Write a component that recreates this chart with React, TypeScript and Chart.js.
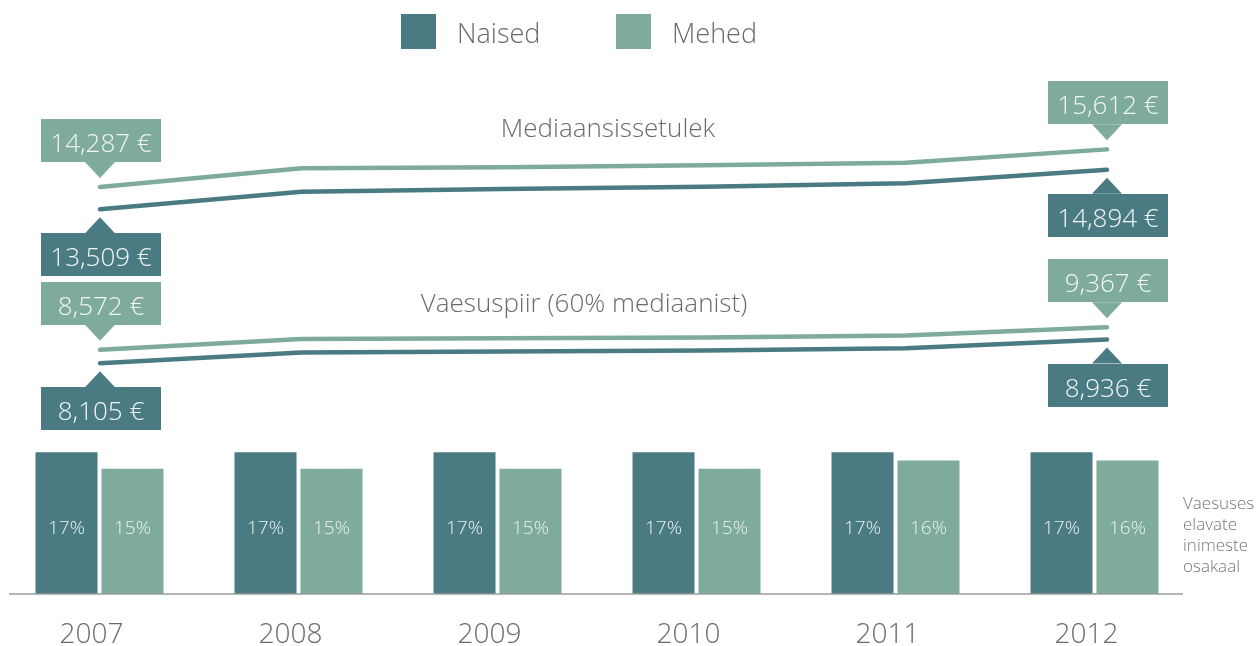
import React, { useEffect, useRef } from "react";
import { Chart, registerables } from "chart.js";

Chart.register(...registerables);

// ---- data ----
const years = ["2007", "2008", "2009", "2010", "2011", "2012"];
const seriesNames = ["Naised", "Mehed"];
const medianWomen = [13509, 14126, 14220, 14301, 14420, 14894];
const medianMen = [14287, 14947, 14982, 15052, 15143, 15612];
const povertyLineWomen = [8105, 8476, 8511, 8546, 8630, 8936];
const povertyLineMen = [8572, 8957, 8981, 9002, 9073, 9367];
const povertyRateWomen = [17, 17, 17, 17, 17, 17];
const povertyRateMen = [15, 15, 15, 15, 16, 16];
const lineTitles = ["Mediaansissetulek", "Vaesuspiir (60% mediaanist)"];
const sideNote = ["Vaesuses", "elavate", "inimeste", "osakaal"];

// ---- style ----
const DARK = "#4a7b83";
const LIGHT = "#7eab9a";
const GREY_TEXT = "#6b6b6b";
const FONT = "'Open Sans', 'Noto Sans', sans-serif";
const W = 1256;
const H = 646;
const PADDING = { top: 60, left: 0, right: 62 };
const AXIS_H = 52;

const fmtEuro = (v: number) => v.toLocaleString("en-US") + " €";
const pts = (arr: number[]) => arr.map((v, i) => ({ x: i, y: v }));

function drawCallout(
  ctx: CanvasRenderingContext2D,
  x: number,
  y: number,
  text: string,
  color: string,
  above: boolean
) {
  const w = 120, h = 43, half = 15, triH = 16;
  const gap = above ? 9 : 8;
  let tipY: number, baseY: number, boxTop: number;
  if (above) {
    tipY = y - gap;
    baseY = tipY - triH;
    boxTop = baseY - h;
  } else {
    tipY = y + gap;
    baseY = tipY + triH;
    boxTop = baseY;
  }
  ctx.fillStyle = color;
  ctx.fillRect(Math.round(x - w / 2 + 1), Math.round(boxTop), w, h);
  ctx.beginPath();
  ctx.moveTo(x - half, baseY);
  ctx.lineTo(x, tipY);
  ctx.lineTo(x + half, baseY);
  ctx.closePath();
  ctx.fill();
  ctx.fillStyle = "#f2f6f5";
  ctx.font = `300 26px ${FONT}`;
  ctx.textAlign = "center";
  ctx.textBaseline = "alphabetic";
  ctx.fillText(text, x + 1, boxTop + h - 10);
}

// plugin for the bar chart: baseline, bar labels, legend, side note
const barOverlay = {
  id: "barOverlay",
  afterDatasetsDraw(chart: any) {
    const ctx: CanvasRenderingContext2D = chart.ctx;
    const area = chart.chartArea;
    const yBar = chart.scales.y;
    ctx.save();

    ctx.strokeStyle = "#9c9c9c";
    ctx.lineWidth = 1.5;
    ctx.beginPath();
    ctx.moveTo(area.left + 9, area.bottom);
    ctx.lineTo(area.right - 11, area.bottom);
    ctx.stroke();

    ctx.font = `300 19px ${FONT}`;
    ctx.fillStyle = "#e9f1ef";
    ctx.textAlign = "center";
    ctx.textBaseline = "alphabetic";
    [0, 1].forEach((di) => {
      const meta = chart.getDatasetMeta(di);
      const data = chart.data.datasets[di].data as number[];
      meta.data.forEach((el: any, i: number) => {
        ctx.fillText(`${data[i]}%`, el.x, yBar.getPixelForValue(8) + 7);
      });
    });

    ctx.font = `300 17px ${FONT}`;
    ctx.textAlign = "left";
    ctx.fillStyle = "#777777";
    sideNote.forEach((t, i) => ctx.fillText(t, area.right - 11, 509 + i * 21));

    const legendItems = [
      { label: seriesNames[0], color: DARK, x: 401 },
      { label: seriesNames[1], color: LIGHT, x: 616 },
    ];
    ctx.font = `300 27px ${FONT}`;
    legendItems.forEach((it) => {
      ctx.fillStyle = it.color;
      ctx.fillRect(it.x, 14, 35, 35);
      ctx.fillStyle = GREY_TEXT;
      ctx.fillText(it.label, it.x + 56, 43);
    });

    ctx.restore();
  },
};

// plugin for the line chart: callouts and titles
const lineOverlay = {
  id: "lineOverlay",
  afterDatasetsDraw(chart: any) {
    const ctx: CanvasRenderingContext2D = chart.ctx;
    ctx.save();
    const calloutSpec = [
      { ds: 0, color: DARK, above: false },
      { ds: 1, color: LIGHT, above: true },
      { ds: 2, color: DARK, above: false },
      { ds: 3, color: LIGHT, above: true },
    ];
    calloutSpec.forEach(({ ds, color, above }) => {
      const meta = chart.getDatasetMeta(ds);
      const data = chart.data.datasets[ds].data as { x: number; y: number }[];
      [0, data.length - 1].forEach((i) => {
        const el = meta.data[i];
        drawCallout(ctx, el.x, el.y, fmtEuro(data[i].y), color, above);
      });
    });

    ctx.fillStyle = GREY_TEXT;
    ctx.font = `300 26px ${FONT}`;
    ctx.textAlign = "center";
    ctx.textBaseline = "alphabetic";
    ctx.fillText(lineTitles[0], 608, 137);
    ctx.fillText(lineTitles[1], 584, 312);
    ctx.restore();
  },
};

export default function App() {
  const barRef = useRef<HTMLCanvasElement | null>(null);
  const lineRef = useRef<HTMLCanvasElement | null>(null);

  useEffect(() => {
    if (!barRef.current || !lineRef.current) return;

    const barChart = new Chart(barRef.current, {
      type: "bar",
      data: {
        labels: years,
        datasets: [
          { label: seriesNames[0], data: povertyRateWomen, backgroundColor: DARK, barPercentage: 0.94, categoryPercentage: 0.663 },
          { label: seriesNames[1], data: povertyRateMen, backgroundColor: LIGHT, barPercentage: 0.94, categoryPercentage: 0.663 },
        ],
      },
      options: {
        responsive: false,
        animation: false,
        devicePixelRatio: 1,
        layout: { padding: { ...PADDING, bottom: 0 } },
        plugins: { legend: { display: false }, tooltip: { enabled: false } },
        scales: {
          x: {
            type: "category",
            offset: true,
            grid: { display: false, drawTicks: false },
            border: { display: false },
            ticks: {
              color: GREY_TEXT,
              font: { family: FONT, size: 28, weight: "300" as any },
              padding: 24,
              labelOffset: -8,
            },
            afterFit: (scale: any) => {
              scale.height = AXIS_H;
            },
          },
          y: { type: "linear", display: false, min: 0, max: 64 },
        },
      },
      plugins: [barOverlay],
    });

    const lineCommon = {
      borderWidth: 4.5,
      pointRadius: 0,
      pointHoverRadius: 0,
      tension: 0,
      borderCapStyle: "round" as const,
      borderJoinStyle: "round" as const,
      fill: false,
    };
    const lineChart = new Chart(lineRef.current, {
      type: "line",
      data: {
        datasets: [
          { ...lineCommon, label: "Mediaan " + seriesNames[0], data: pts(medianWomen), borderColor: DARK },
          { ...lineCommon, label: "Mediaan " + seriesNames[1], data: pts(medianMen), borderColor: LIGHT },
          { ...lineCommon, label: "Vaesuspiir " + seriesNames[0], data: pts(povertyLineWomen), borderColor: DARK },
          { ...lineCommon, label: "Vaesuspiir " + seriesNames[1], data: pts(povertyLineMen), borderColor: LIGHT },
        ],
      },
      options: {
        responsive: false,
        animation: false,
        devicePixelRatio: 1,
        layout: { padding: { ...PADDING, bottom: AXIS_H } },
        plugins: { legend: { display: false }, tooltip: { enabled: false } },
        scales: {
          x: { type: "linear", display: false, offset: false, min: -0.4965, max: 5.432 },
          y: { type: "linear", display: false, min: 0, max: 18750 },
        },
      },
      plugins: [lineOverlay],
    });

    return () => {
      barChart.destroy();
      lineChart.destroy();
    };
  }, []);

  return (
    <div style={{ position: "fixed", left: 0, top: 0, width: W, height: H, background: "#fff" }}>
      <canvas ref={barRef} width={W} height={H} style={{ position: "absolute", left: 0, top: 0, display: "block" }} />
      <canvas ref={lineRef} width={W} height={H} style={{ position: "absolute", left: 0, top: 0, display: "block" }} />
    </div>
  );
}
